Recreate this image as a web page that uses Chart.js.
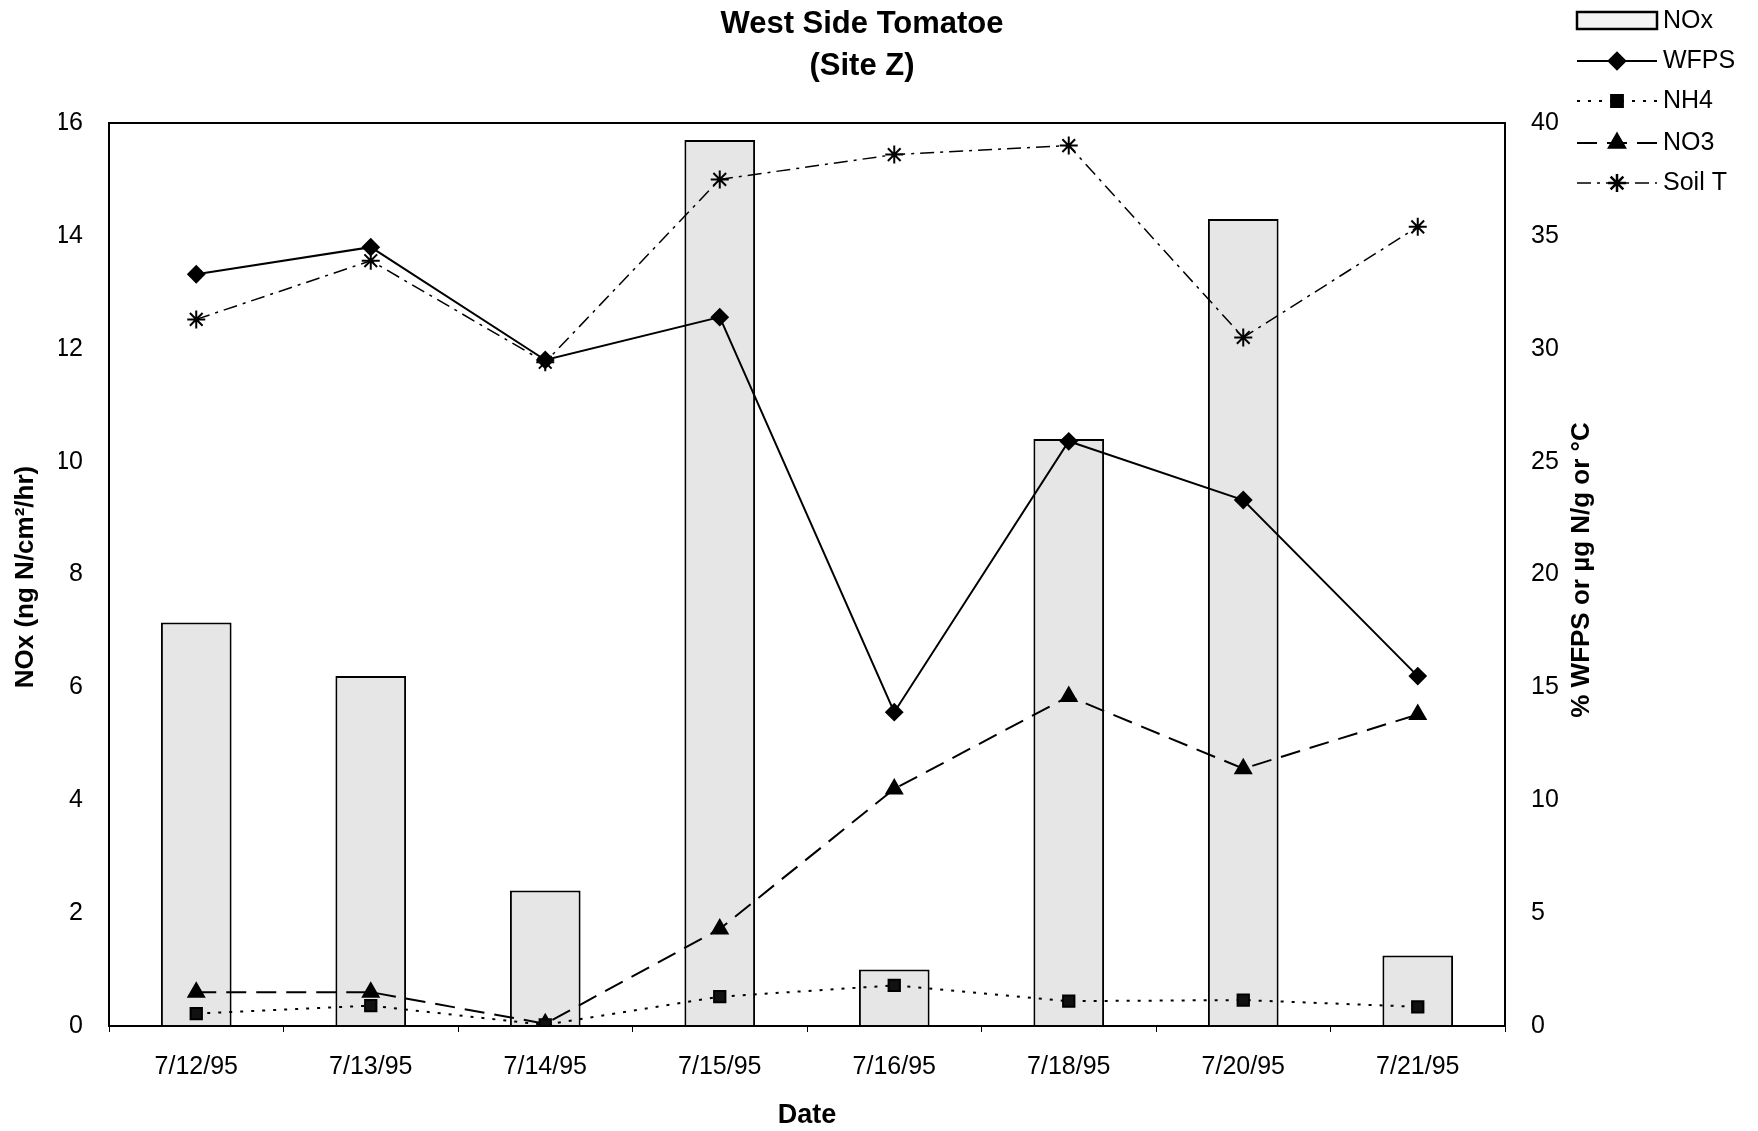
<!DOCTYPE html>
<html>
<head>
<meta charset="utf-8">
<script src="https://cdn.jsdelivr.net/npm/chart.js@4"></script>
<style>
  html, body { margin: 0; padding: 0; background: #fff; }
  #wrap { width: 1758px; height: 1131px; position: relative; }
</style>
</head>
<body>
<div id="wrap"><canvas id="chart"></canvas></div>
<script>
// data
var dates = ['7/12/95', '7/13/95', '7/14/95', '7/15/95', '7/16/95', '7/18/95', '7/20/95', '7/21/95'];
var noxValues = [7.15, 6.2, 2.4, 15.7, 1.0, 10.4, 14.3, 1.25];
var wfpsValues = [33.3, 34.5, 29.5, 31.4, 13.9, 25.9, 23.3, 15.5];
var nh4Values = [0.55, 0.9, 0.05, 1.3, 1.8, 1.1, 1.15, 0.85];
var no3Values = [1.5, 1.5, 0.1, 4.3, 10.5, 14.6, 11.4, 13.8];
var soilTValues = [31.3, 33.9, 29.4, 37.5, 38.6, 39.0, 30.5, 35.4];

var FONT = "'Liberation Sans', Arial, sans-serif";

var decor = {
  id: 'decor',
  afterDraw: function (chart) {
    var ctx = chart.ctx, a = chart.chartArea;
    ctx.save();
    // frame round the plot
    ctx.strokeStyle = '#000';
    ctx.lineWidth = 2;
    ctx.strokeRect(a.left, a.top, a.right - a.left, a.bottom - a.top);

    // titles
    ctx.fillStyle = '#000';
    ctx.textAlign = 'center';
    ctx.textBaseline = 'middle';
    ctx.font = 'bold 31px ' + FONT;
    ctx.fillText('West Side Tomatoe', 862, 24);
    ctx.fillText('(Site Z)', 862, 66);

    ctx.font = 'bold 27px ' + FONT;
    ctx.fillText('Date', 807, 1116);

    ctx.font = 'bold 26px ' + FONT;
    ctx.save();
    ctx.translate(26, 577);
    ctx.rotate(-Math.PI / 2);
    ctx.fillText('NOx (ng N/cm\u00B2/hr)', 0, 0);
    ctx.restore();

    ctx.save();
    ctx.translate(1582, 570);
    ctx.rotate(-Math.PI / 2);
    ctx.fillText('% WFPS or \u00B5g N/g or \u00B0C', 0, 0);
    ctx.restore();

    // legend
    var x0 = 1577, x1 = 1657, tx = 1663;
    ctx.font = '25px ' + FONT;
    ctx.textAlign = 'left';
    ctx.fillStyle = '#f4f4f4';
    ctx.fillRect(x0, 12, x1 - x0, 17);
    ctx.strokeStyle = '#000';
    ctx.lineWidth = 2.5;
    ctx.strokeRect(x0, 12, x1 - x0, 17);
    ctx.fillStyle = '#000';
    ctx.fillText('NOx', tx, 21);

    var rows = [61, 101, 143, 183];
    var ds = chart.data.datasets.slice(1);
    ds.forEach(function (d, i) {
      var y = rows[i];
      ctx.save();
      ctx.strokeStyle = '#000';
      ctx.lineWidth = d.borderWidth;
      ctx.setLineDash(d.borderDash || []);
      ctx.beginPath();
      ctx.moveTo(x0, y);
      ctx.lineTo(x1, y);
      ctx.stroke();
      ctx.restore();
      Chart.helpers.drawPoint(ctx, {
        pointStyle: d.pointStyle, radius: d.pointRadius, borderWidth: 2
      }, (x0 + x1) / 2, y);
      ctx.fillStyle = '#000';
      ctx.fillText(d.label, tx, y);
    });
    ctx.restore();
  }
};

var ctx = document.getElementById('chart').getContext('2d');
var chart = new Chart(ctx, {
  data: {
    labels: dates,
    datasets: [
      {
        type: 'bar', label: 'NOx', data: noxValues, yAxisID: 'y', order: 10,
        backgroundColor: '#e6e6e6', borderColor: '#000', borderWidth: 2,
        borderSkipped: 'bottom', barPercentage: 0.81, categoryPercentage: 0.5
      },
      {
        type: 'line', label: 'WFPS', data: wfpsValues, yAxisID: 'y2', order: 1,
        borderColor: '#000', borderWidth: 2, pointStyle: 'rectRot', pointRadius: 8,
        pointBackgroundColor: '#000', pointBorderColor: '#000', tension: 0
      },
      {
        type: 'line', label: 'NH4', data: nh4Values, yAxisID: 'y2', order: 2,
        borderColor: '#000', borderWidth: 2, borderDash: [3, 8], pointStyle: 'rect', pointRadius: 8,
        pointBackgroundColor: '#111', pointBorderColor: '#000', tension: 0
      },
      {
        type: 'line', label: 'NO3', data: no3Values, yAxisID: 'y2', order: 3,
        borderColor: '#000', borderWidth: 2, borderDash: [20, 10], pointStyle: 'triangle', pointRadius: 9,
        pointBackgroundColor: '#000', pointBorderColor: '#000', tension: 0
      },
      {
        type: 'line', label: 'Soil T', data: soilTValues, yAxisID: 'y2', order: 4,
        borderColor: '#000', borderWidth: 1.5, borderDash: [14, 6, 3, 6], pointStyle: 'star', pointRadius: 9,
        pointBackgroundColor: '#000', pointBorderColor: '#000', pointBorderWidth: 2, tension: 0
      }
    ]
  },
  plugins: [decor],
  options: {
    responsive: true,
    maintainAspectRatio: false,
    animation: false,
    layout: { padding: { left: 59, right: 173, top: 123, bottom: 45 } },
    plugins: { legend: { display: false }, tooltip: { enabled: false } },
    scales: {
      x: {
        offset: true,
        grid: { display: true, offset: true, drawOnChartArea: false, color: '#000', tickLength: 6 },
        border: { display: true, color: '#000', width: 2 },
        ticks: { color: '#000', font: { family: FONT, size: 25 }, padding: 20, maxRotation: 0 },
        afterFit: function (s) { s.height = 60; }
      },
      y: {
        position: 'left', min: 0, max: 16,
        grid: { display: false },
        border: { display: true, color: '#000', width: 2 },
        ticks: { stepSize: 2, color: '#000', font: { family: FONT, size: 25 }, padding: 18 },
        afterFit: function (s) { s.width = 50; }
      },
      y2: {
        position: 'right', min: 0, max: 40,
        grid: { display: false },
        border: { display: true, color: '#000', width: 2 },
        ticks: { stepSize: 5, color: '#000', font: { family: FONT, size: 25 }, padding: 18 },
        afterFit: function (s) { s.width = 80; }
      }
    }
  }
});
</script>
</body>
</html>
